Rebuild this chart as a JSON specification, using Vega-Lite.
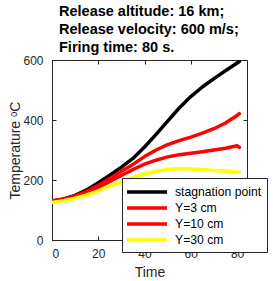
{
  "$schema": "https://vega.github.io/schema/vega-lite/v6.json",
  "width": 195,
  "height": 180,
  "autosize": {"type": "none"},
  "padding": {"left": 52, "top": 60, "right": 26, "bottom": 41},
  "background": "white",
  "title": {
    "text": ["Release altitude: 16 km;", "Release velocity: 600 m/s;", "Firing time: 80 s."],
    "anchor": "start",
    "frame": "group",
    "dx": 7,
    "offset": -1,
    "font": "Liberation Sans",
    "fontSize": 14.5,
    "fontWeight": "bold",
    "color": "#000000",
    "lineHeight": 18
  },
  "config": {
    "font": "Liberation Sans",
    "view": {"stroke": "#262626", "strokeWidth": 1},
    "axis": {
      "grid": false,
      "domainColor": "#262626",
      "tickColor": "#262626",
      "labelColor": "#262626",
      "titleColor": "#262626",
      "labelFont": "Liberation Sans",
      "titleFont": "Liberation Sans",
      "labelFontSize": 12,
      "titleFontSize": 14,
      "titleFontWeight": "normal",
      "tickSize": -4
    },
    "legend": {
      "title": null,
      "orient": "none",
      "legendX": 70,
      "legendY": 118,
      "symbolType": "M-2.857,0H2.857",
      "symbolSize": 196,
      "symbolOffset": 11,
      "labelFontSize": 12.2,
      "labelColor": "#000000",
      "labelFont": "Liberation Sans",
      "labelOffset": 19,
      "rowPadding": 0,
      "padding": 5,
      "strokeColor": "#262626",
      "fillColor": "white"
    }
  },
  "data": {
    "values": [
      {"series": "stagnation point", "t": 0, "T": 130},
      {"series": "stagnation point", "t": 5, "T": 137},
      {"series": "stagnation point", "t": 10, "T": 149},
      {"series": "stagnation point", "t": 15, "T": 167},
      {"series": "stagnation point", "t": 20, "T": 191},
      {"series": "stagnation point", "t": 25, "T": 216},
      {"series": "stagnation point", "t": 30, "T": 243},
      {"series": "stagnation point", "t": 35, "T": 272},
      {"series": "stagnation point", "t": 40, "T": 310},
      {"series": "stagnation point", "t": 45, "T": 352},
      {"series": "stagnation point", "t": 50, "T": 396},
      {"series": "stagnation point", "t": 55, "T": 440},
      {"series": "stagnation point", "t": 60, "T": 478},
      {"series": "stagnation point", "t": 65, "T": 510},
      {"series": "stagnation point", "t": 70, "T": 538},
      {"series": "stagnation point", "t": 75, "T": 564},
      {"series": "stagnation point", "t": 80, "T": 590},
      {"series": "stagnation point", "t": 81, "T": 595},
      {"series": "Y=3 cm", "t": 0, "T": 130},
      {"series": "Y=3 cm", "t": 5, "T": 136},
      {"series": "Y=3 cm", "t": 10, "T": 147},
      {"series": "Y=3 cm", "t": 15, "T": 162},
      {"series": "Y=3 cm", "t": 20, "T": 182},
      {"series": "Y=3 cm", "t": 25, "T": 205},
      {"series": "Y=3 cm", "t": 30, "T": 229},
      {"series": "Y=3 cm", "t": 35, "T": 252},
      {"series": "Y=3 cm", "t": 40, "T": 278},
      {"series": "Y=3 cm", "t": 45, "T": 300},
      {"series": "Y=3 cm", "t": 50, "T": 318},
      {"series": "Y=3 cm", "t": 55, "T": 331},
      {"series": "Y=3 cm", "t": 60, "T": 343},
      {"series": "Y=3 cm", "t": 65, "T": 356},
      {"series": "Y=3 cm", "t": 70, "T": 371},
      {"series": "Y=3 cm", "t": 75, "T": 390},
      {"series": "Y=3 cm", "t": 80, "T": 415},
      {"series": "Y=3 cm", "t": 81, "T": 421},
      {"series": "Y=10 cm", "t": 0, "T": 130},
      {"series": "Y=10 cm", "t": 5, "T": 135},
      {"series": "Y=10 cm", "t": 10, "T": 145},
      {"series": "Y=10 cm", "t": 15, "T": 158},
      {"series": "Y=10 cm", "t": 20, "T": 175},
      {"series": "Y=10 cm", "t": 25, "T": 195},
      {"series": "Y=10 cm", "t": 30, "T": 215},
      {"series": "Y=10 cm", "t": 35, "T": 235},
      {"series": "Y=10 cm", "t": 40, "T": 253},
      {"series": "Y=10 cm", "t": 45, "T": 266},
      {"series": "Y=10 cm", "t": 50, "T": 277},
      {"series": "Y=10 cm", "t": 55, "T": 284},
      {"series": "Y=10 cm", "t": 60, "T": 289},
      {"series": "Y=10 cm", "t": 65, "T": 294},
      {"series": "Y=10 cm", "t": 70, "T": 300},
      {"series": "Y=10 cm", "t": 75, "T": 306},
      {"series": "Y=10 cm", "t": 80, "T": 314},
      {"series": "Y=10 cm", "t": 81, "T": 309},
      {"series": "Y=30 cm", "t": 0, "T": 125},
      {"series": "Y=30 cm", "t": 5, "T": 131},
      {"series": "Y=30 cm", "t": 10, "T": 139},
      {"series": "Y=30 cm", "t": 15, "T": 150},
      {"series": "Y=30 cm", "t": 20, "T": 164},
      {"series": "Y=30 cm", "t": 25, "T": 180},
      {"series": "Y=30 cm", "t": 30, "T": 195},
      {"series": "Y=30 cm", "t": 35, "T": 208},
      {"series": "Y=30 cm", "t": 40, "T": 220},
      {"series": "Y=30 cm", "t": 45, "T": 229},
      {"series": "Y=30 cm", "t": 50, "T": 235},
      {"series": "Y=30 cm", "t": 55, "T": 238},
      {"series": "Y=30 cm", "t": 60, "T": 237},
      {"series": "Y=30 cm", "t": 65, "T": 235},
      {"series": "Y=30 cm", "t": 70, "T": 232},
      {"series": "Y=30 cm", "t": 75, "T": 230},
      {"series": "Y=30 cm", "t": 80, "T": 227},
      {"series": "Y=30 cm", "t": 81, "T": 225}
    ]
  },
  "resolve": {"axis": {"x": "independent", "y": "independent"}},
  "layer": [
    {
      "mark": {"type": "line", "strokeOpacity": 0},
      "encoding": {
        "x": {
          "field": "t", "type": "quantitative",
          "scale": {"domain": [0, 84.3], "nice": false, "zero": false},
          "axis": {"orient": "top", "values": [0, 20, 40, 60, 80], "labels": false, "domain": false, "title": null}
        },
        "y": {
          "field": "T", "type": "quantitative",
          "scale": {"domain": [0, 600], "nice": false},
          "axis": {"orient": "right", "values": [0, 200, 400, 600], "labels": false, "domain": false, "title": null}
        }
      }
    },
    {
      "mark": {"type": "line", "strokeCap": "round", "strokeJoin": "round", "clip": true},
      "encoding": {
        "x": {
          "field": "t", "type": "quantitative",
          "scale": {"domain": [0, 84.3], "nice": false, "zero": false},
          "axis": {"orient": "bottom", "values": [0, 20, 40, 60, 80], "title": "Time", "titlePadding": 6, "labelPadding": 12}
        },
        "y": {
          "field": "T", "type": "quantitative",
          "scale": {"domain": [0, 600], "nice": false},
          "axis": {"orient": "left", "values": [0, 200, 400, 600], "title": "Temperature ᵒC", "titlePadding": 0, "labelPadding": 13}
        },
        "color": {
          "field": "series", "type": "nominal",
          "scale": {"domain": ["stagnation point", "Y=3 cm", "Y=10 cm", "Y=30 cm"], "range": ["#000000", "#ff0000", "#ff0000", "#ffff00"]}
        },
        "strokeWidth": {
          "field": "series", "type": "nominal",
          "scale": {"domain": ["stagnation point", "Y=3 cm", "Y=10 cm", "Y=30 cm"], "range": [3.5, 3.5, 1.5, 1.5]}
        }
      }
    }
  ]
}
